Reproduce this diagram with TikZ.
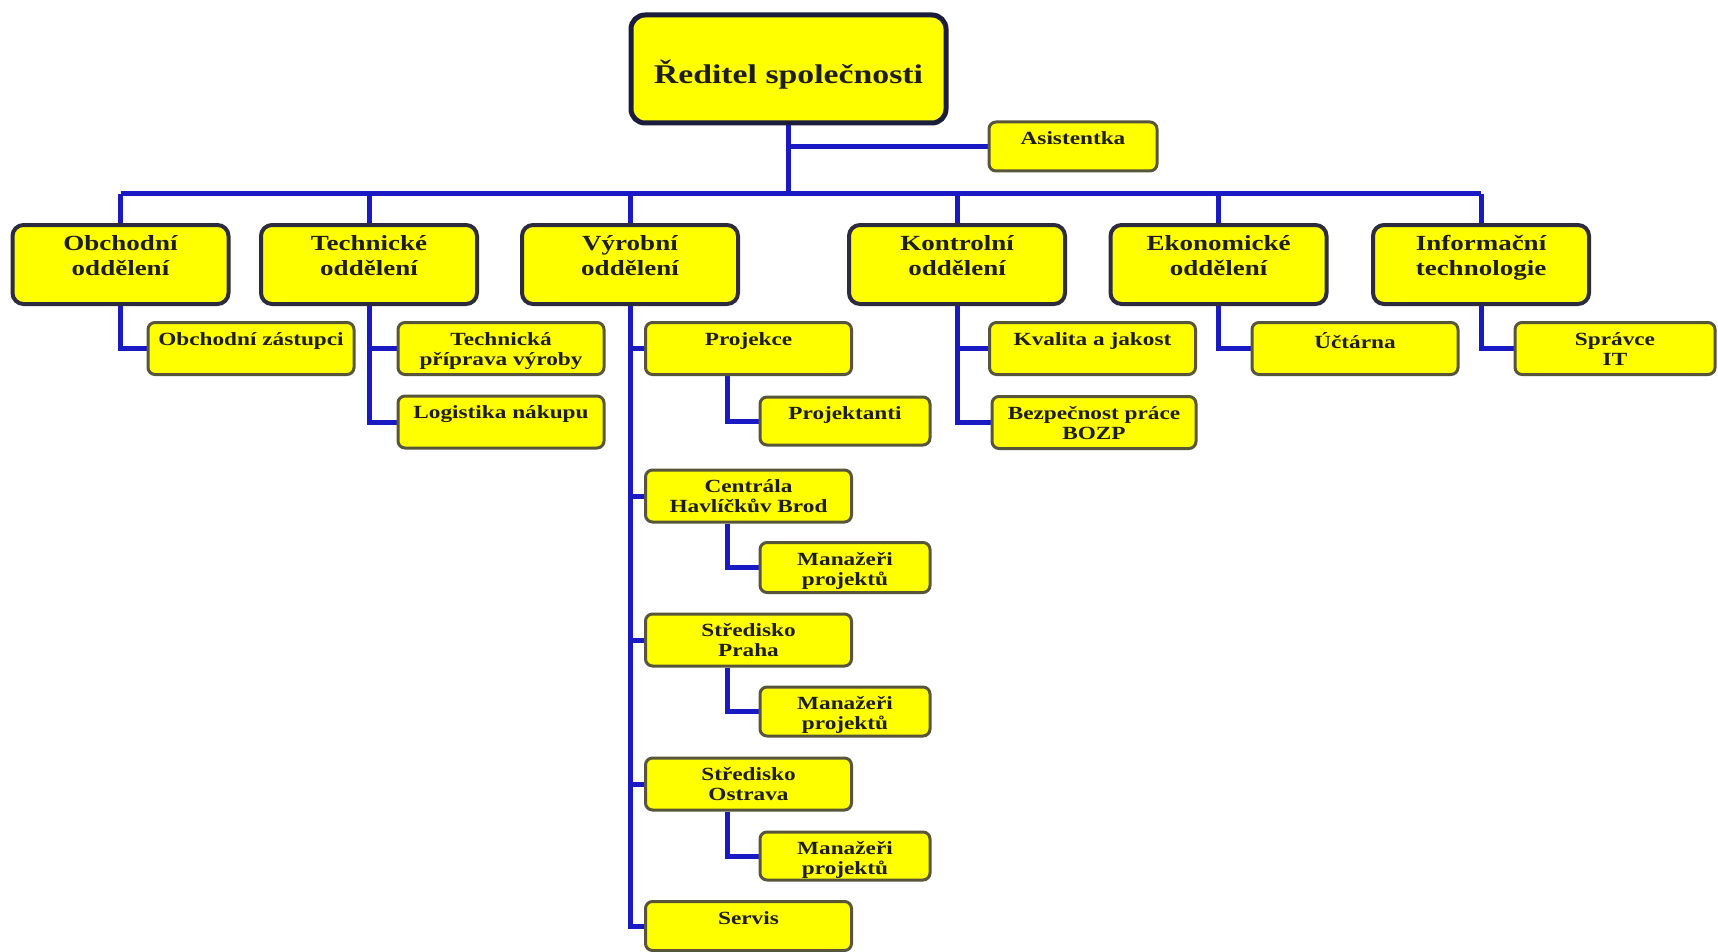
\documentclass[tikz,border=0pt]{standalone}
\usepackage{fontspec}
\setmainfont{Liberation Serif}[FakeStretch=1.25]
\usetikzlibrary{calc,backgrounds}

\definecolor{boxfill}{RGB}{255,255,0}
\definecolor{linkblue}{RGB}{26,26,196}
\definecolor{topedge}{RGB}{28,28,60}
\definecolor{deptedge}{RGB}{44,44,62}
\definecolor{subedge}{RGB}{88,86,58}
\definecolor{txt}{RGB}{30,30,22}

\tikzset{
  box/.style={draw, fill=boxfill, inner sep=0pt},
  toplabel/.style={anchor=north, inner sep=0pt, align=center, text=txt},
  ceobox/.style={box, draw=topedge, line width=5pt, rounded corners=14pt,
    label={[inner sep=0pt, text=txt, yshift=-6pt,
      font=\fontsize{27}{30}\selectfont\bfseries]center:{#1}}},
  dept/.style={box, draw=deptedge, line width=4pt, rounded corners=11pt,
    minimum width=216pt, minimum height=79pt,
    label={[toplabel, yshift=-12pt, font=\fontsize{21.6}{25}\selectfont\bfseries]north:{#1}}},
  sub/.style={box, draw=subedge, line width=3pt, rounded corners=7pt,
    minimum width=206pt, minimum height=52pt,
    label={[toplabel, yshift=-11pt, font=\fontsize{18.6}{20}\selectfont\bfseries]north:{#1}}},
  link/.style={draw=linkblue, line width=5pt},
}

\begin{document}
\begin{tikzpicture}[x=1pt, y=-1pt]
\useasboundingbox (0,0) rectangle (1718,952);

% director and assistant
\node[ceobox={Ředitel společnosti}, minimum width=315pt, minimum height=108pt] (ceo) at (788.5,69) {};
\node[sub={Asistentka}, minimum width=168pt, minimum height=49pt] (asist) at (1073,146.5) {};

% departments
\node[dept={Obchodní\\oddělení}] (obch) at (120.5,264.5) {};
\node[dept={Technické\\oddělení}] (tech) at (369,264.5) {};
\node[dept={Výrobní\\oddělení}] (vyr) at (630,264.5) {};
\node[dept={Kontrolní\\oddělení}] (kontr) at (957,264.5) {};
\node[dept={Ekonomické\\oddělení}] (ekon) at (1218.5,264.5) {};
\node[dept={Informační\\technologie}] (info) at (1481,264.5) {};

% first level units
\node[sub={Obchodní zástupci}] (obchz) at (251,348.5) {};
\node[sub={Technická\\příprava výroby}] (techp) at (501,348.5) {};
\node[sub={Logistika nákupu}] (logist) at (501,422) {};
\node[sub={Projekce}] (projekce) at (748.5,348.5) {};
\node[sub={Centrála\\Havlíčkův Brod}] (centrala) at (748.5,496) {};
\node[sub={Středisko\\Praha}] (praha) at (748.5,640) {};
\node[sub={Středisko\\Ostrava}] (ostrava) at (748.5,784) {};
\node[sub={Servis}, minimum height=49pt] (servis) at (748.5,926) {};
\node[sub={Kvalita a jakost}] (kval) at (1092.5,348.5) {};
\node[sub={Bezpečnost práce\\BOZP}, minimum width=204pt] (bozp) at (1094,422.5) {};
\node[sub={Účtárna}] (ucet) at (1355,348.5) {};
\node[sub={Správce\\IT}, minimum width=200pt] (sprav) at (1615,348.5) {};

% second level units
\node[sub={Projektanti}, minimum width=170pt, minimum height=48pt] (projektanti) at (845,421) {};
\node[sub={Manažeři\\projektů}, minimum width=170pt, minimum height=50pt] (man1) at (845,567.5) {};
\node[sub={Manažeři\\projektů}, minimum width=170pt, minimum height=49pt] (man2) at (845,711.5) {};
\node[sub={Manažeři\\projektů}, minimum width=170pt, minimum height=48pt] (man3) at (845,856) {};

\coordinate (bus) at (0,194);
\coordinate (pj) at ($(projekce.south west)!0.4!(projekce.south east)$);
\coordinate (cj) at ($(centrala.south west)!0.4!(centrala.south east)$);
\coordinate (prj) at ($(praha.south west)!0.4!(praha.south east)$);
\coordinate (oj) at ($(ostrava.south west)!0.4!(ostrava.south east)$);

\begin{scope}[on background layer]
  \fill[white] (0,0) rectangle (1718,952);
  % director to the departments
  \draw[link] (ceo.south) -- (ceo.south |- bus);
  \draw[link] (ceo.south |- asist.west) -- (asist.west);
  \draw[link] (bus -| obch.north) -- (bus -| info.north);
  \foreach \d in {obch,tech,vyr,kontr,ekon,info}
    \draw[link] (bus -| \d.north) -- (\d.north);
  % departments to their units
  \draw[link] (obch.south) |- (obchz.west);
  \draw[link] (tech.south) |- (techp.west);
  \draw[link] (tech.south) |- (logist.west);
  \foreach \u in {projekce,centrala,praha,ostrava,servis}
    \draw[link] (vyr.south) |- (\u.west);
  \draw[link] (kontr.south) |- (kval.west);
  \draw[link] (kontr.south) |- (bozp.west);
  \draw[link] (ekon.south) |- (ucet.west);
  \draw[link] (info.south) |- (sprav.west);
  % second level
  \draw[link] (pj) |- (projektanti.west);
  \draw[link] (cj) |- (man1.west);
  \draw[link] (prj) |- (man2.west);
  \draw[link] (oj) |- (man3.west);
\end{scope}
\end{tikzpicture}
\end{document}
